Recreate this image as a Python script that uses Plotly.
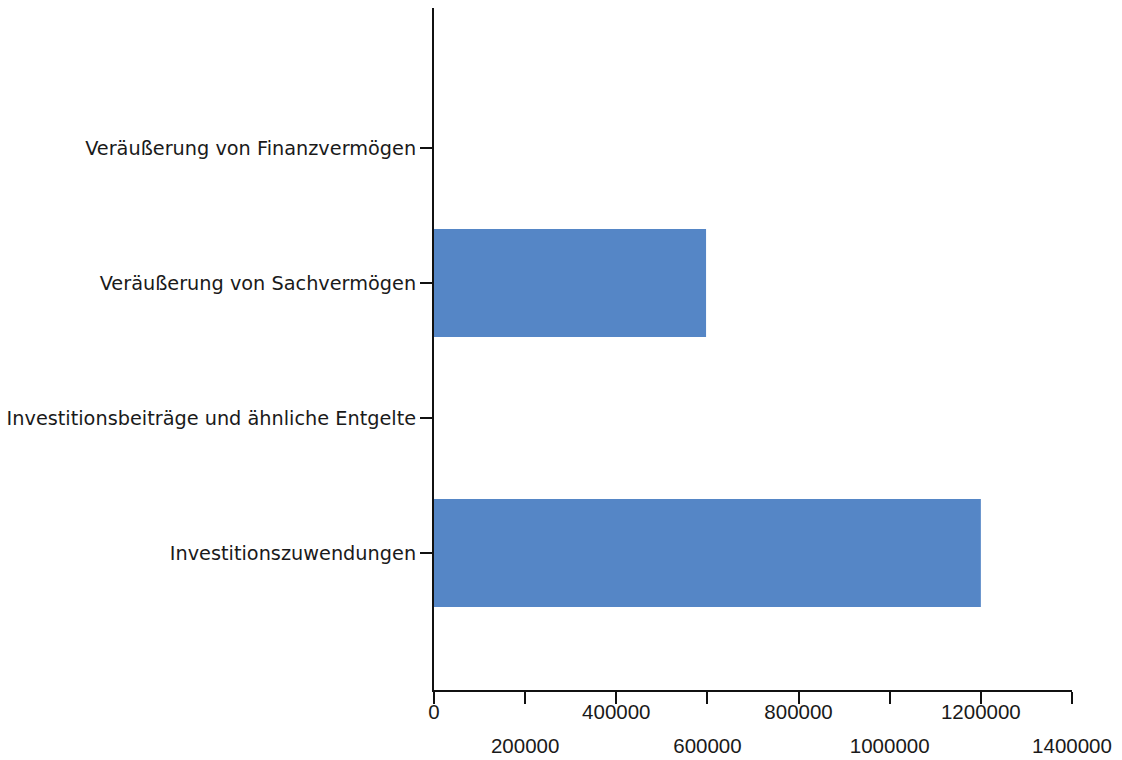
import plotly.graph_objects as go

categories = [
    "Investitionszuwendungen",
    "Investitionsbeiträge und ähnliche Entgelte",
    "Veräußerung von Sachvermögen",
    "Veräußerung von Finanzvermögen",
]
values = [1200000, 0, 597000, 0]

tick_values = [0, 200000, 400000, 600000, 800000, 1000000, 1200000, 1400000]
tick_labels = ["0", "200000", "400000", "600000", "800000", "1000000", "1200000", "1400000"]

row1_vals = tick_values[0::2]
row2_vals = tick_values[1::2]
row2_text = tick_labels[1::2]

YFONT = dict(family="DejaVu Sans", size=19.3, color="#1a1a1a")
XFONT = dict(family="Liberation Sans, Arial, sans-serif", size=20.5, color="#1a1a1a")
LINE = "#111111"

fig = go.Figure()
fig.add_trace(go.Bar(
    y=categories, x=values, orientation="h",
    marker=dict(color="#5586C6", line=dict(width=0)),
    width=0.8, showlegend=False, hoverinfo="x+y",
))
# invisible helper trace so the second-row tick axis is drawn
fig.add_trace(go.Scatter(
    x=[0], y=[categories[0]], xaxis="x2", mode="markers",
    marker=dict(opacity=0), showlegend=False, hoverinfo="skip",
))

fig.update_layout(
    width=1122, height=760,
    margin=dict(l=434, r=50, t=8, b=70, autoexpand=False),
    paper_bgcolor="white", plot_bgcolor="white",
    font=YFONT,
    xaxis=dict(
        range=[0, 1400000], automargin=False,
        tickmode="array", tickvals=tick_values,
        ticktext=[t if v in row1_vals else "" for v, t in zip(tick_values, tick_labels)],
        ticks="outside", ticklen=12, tickwidth=2, tickcolor=LINE,
        showline=True, linecolor=LINE, linewidth=2,
        showgrid=False, zeroline=False,
        ticklabelstandoff=-10, ticklabeloverflow="allow",
        tickfont=XFONT,
    ),
    xaxis2=dict(
        overlaying="x", matches="x", side="bottom", anchor="y",
        range=[0, 1400000], automargin=False,
        tickmode="array", tickvals=row2_vals, ticktext=row2_text,
        ticks="", showline=False, showgrid=False, zeroline=False,
        ticklabelstandoff=41, ticklabeloverflow="allow",
        tickfont=XFONT,
    ),
    yaxis=dict(
        type="category", automargin=False,
        categoryorder="array", categoryarray=categories,
        range=[-1.015, 4.037],
        ticks="outside", ticklen=12, tickwidth=2, tickcolor=LINE,
        showline=True, linecolor=LINE, linewidth=2,
        showgrid=False, zeroline=False,
        tickfont=YFONT,
    ),
)

fig.write_html(
    "out.html",
    config={"displayModeBar": False},
    post_script="document.body.style.margin='0';document.body.style.overflow='hidden';",
)
